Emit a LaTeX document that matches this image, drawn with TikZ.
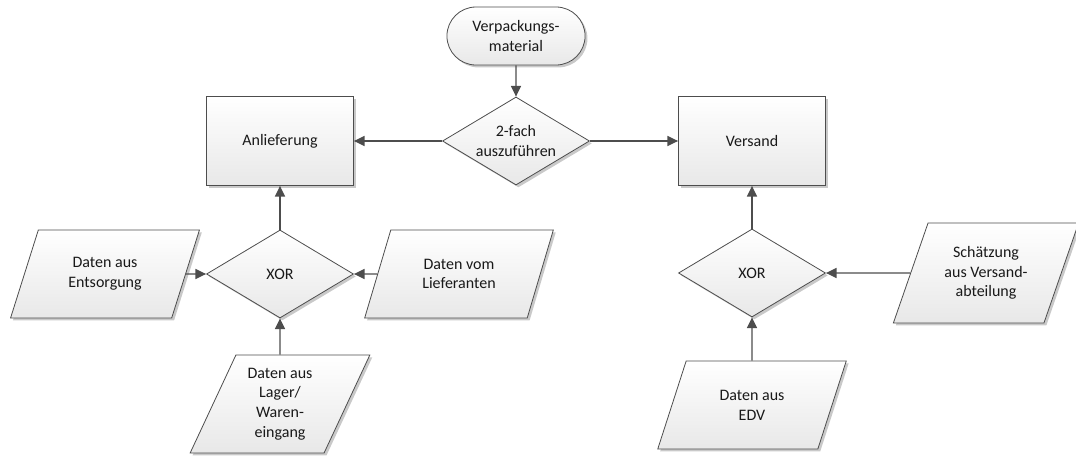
\documentclass[tikz,border=0pt]{standalone}
\usepackage{fontspec}
\setmainfont{Carlito}
\usepackage{xcolor}
\usepackage{tikz}
\usetikzlibrary{arrows.meta, shapes.geometric, shapes.misc, shadows, positioning}

\definecolor{linegray}{HTML}{4D4D4D}
\definecolor{fillgray}{HTML}{E8E8E8}

\begin{document}
\begin{tikzpicture}[x=0.75pt, y=-0.75pt,
    every node/.style={font=\fontsize{12}{14.8}\selectfont, align=center, text=black!90},
    shape base/.style={draw=linegray, line width=0.6pt, top color=white, bottom color=fillgray,
        drop shadow={shadow xshift=1.8pt, shadow yshift=-1.8pt, fill=black!30, opacity=0.7}},
    process/.style={shape base, rectangle, minimum width=110.25pt, minimum height=66.75pt},
    decision/.style={shape base, diamond, aspect=1.66, inner sep=0pt, minimum width=110.25pt, minimum height=66pt},
    terminal/.style={shape base, rounded rectangle, minimum width=110.25pt, minimum height=43.5pt},
    datain/.style={shape base, trapezium, trapezium left angle=65, trapezium right angle=115,
        trapezium stretches=true, inner sep=0pt, minimum width=142pt, minimum height=66pt},
    flow/.style={draw=linegray, line width=1.1pt, -{Triangle[length=8pt, width=7.5pt]}}]

    % fix the page size
    \useasboundingbox (0,0) rectangle (1076,457);

    % Top part
    \node[terminal] (mat) at (516,36) {Verpackungs-\\material};
    \node[decision] (split) at (516,141) {2-fach\\auszuführen};
    \node[process] (anl) at (280,141) {Anlieferung};
    \node[process] (vers) at (752,141) {Versand};

    % Left branch
    \node[decision] (xorl) at (280,274) {XOR};
    \node[datain] (entsorg) at (105,274) {Daten aus\\Entsorgung};
    \node[datain] (liefer) at (459,274) {Daten vom\\Lieferanten};
    \node[datain, minimum width=136pt, minimum height=73.5pt] (lager) at (280,404)
        {Daten aus\\Lager/\\Waren-\\eingang};

    % Right branch
    \node[decision] (xorr) at (752,273) {XOR};
    \node[datain, minimum width=139.5pt, minimum height=75pt] (schaetz) at (986,273)
        {Schätzung\\aus Versand-\\abteilung};
    \node[datain] (edv) at (752,405) {Daten aus\\EDV};

    % Connectors
    \draw[flow] (mat) -- (split);
    \draw[flow] (split) -- (anl);
    \draw[flow] (split) -- (vers);
    \draw[flow] (xorl) -- (anl);
    \draw[flow] (entsorg) -- (xorl);
    \draw[flow] (liefer) -- (xorl);
    \draw[flow] (lager) -- (xorl);
    \draw[flow] (xorr) -- (vers);
    \draw[flow] (schaetz) -- (xorr);
    \draw[flow] (edv) -- (xorr);

\end{tikzpicture}
\end{document}
